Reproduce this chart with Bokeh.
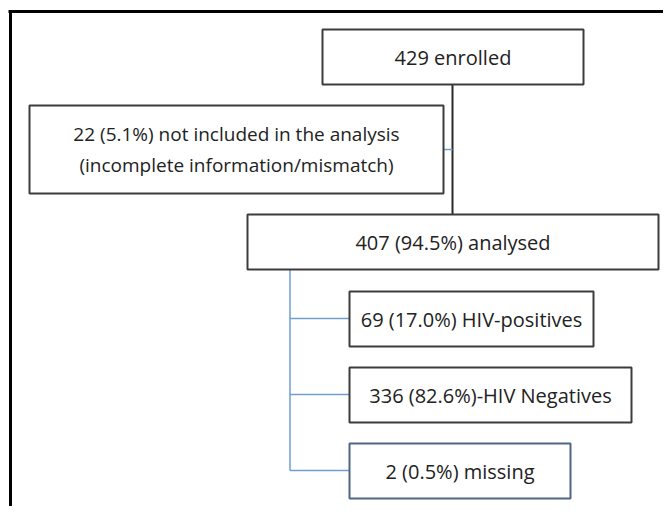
from bokeh.plotting import figure
from bokeh.models import Range1d, ColumnDataSource
from bokeh.core.properties import value
from bokeh.embed import file_html
from bokeh.resources import INLINE

# ---- data (flow-chart texts) ----
box_labels = [
    "429 enrolled",
    "22 (5.1%) not included in the analysis\n(incomplete information/mismatch)",
    "407 (94.5%) analysed",
    "69 (17.0%) HIV-positives",
    "336 (82.6%)-HIV Negatives",
    "2 (0.5%) missing",
]

# ---- layout (picture pixel coordinates) ----
box_left = [322, 29, 247, 349, 349, 349]
box_right = [583, 443, 658, 593, 631, 570]
box_top = [29, 105, 214, 291, 367, 443]
box_bottom = [84, 193, 269, 346, 422, 498]
box_color = ["#3c3c3c", "#3c3c3c", "#3c3c3c", "#3c3c3c", "#3c3c3c", "#4f6684"]
font_px = ["20px", "19px", "20px", "20px", "20px", "20px"]

W, H = 663, 506
p = figure(width=W, height=H, output_backend="svg", toolbar_location=None,
           x_range=Range1d(0, W), y_range=Range1d(H, 0),
           min_border=0, outline_line_color=None, background_fill_color="white")
p.axis.visible = False
p.grid.visible = False

# outer frame (top and left edges visible)
p.segment(x0=[10, 8], y0=[11, 11], x1=[10, 700], y1=[520, 11],
          line_color="black", line_width=3)

# black connector enrolled -> analysed
cx = (box_left[0] + box_right[0]) / 2 - 0.5
p.segment(x0=[cx], y0=[box_bottom[0]], x1=[cx], y1=[box_top[2]],
          line_color="#2a2a2a", line_width=2)

# blue connector to excluded box
blue = "#6f9fcf"
p.segment(x0=[box_right[1]], y0=[149], x1=[cx], y1=[149],
          line_color=blue, line_width=1.5)

# blue tree from analysed box to outcome boxes
tx = 289.5
branch_y = [(box_top[i] + box_bottom[i]) / 2 - 0.5 for i in (3, 4, 5)]
p.segment(x0=[tx], y0=[box_bottom[2]], x1=[tx], y1=[branch_y[-1]],
          line_color=blue, line_width=1.5)
p.segment(x0=[tx] * 3, y0=branch_y, x1=[box_left[i] for i in (3, 4, 5)], y1=branch_y,
          line_color=blue, line_width=1.5)

src = ColumnDataSource(dict(left=box_left, right=box_right, top=box_top,
                            bottom=box_bottom, color=box_color))
p.quad(left="left", right="right", top="top", bottom="bottom", source=src,
       fill_color="white", line_color="color", line_width=2)

tsrc = ColumnDataSource(dict(
    x=[(l + r) / 2 for l, r in zip(box_left, box_right)],
    y=[(t + b) / 2 for t, b in zip(box_top, box_bottom)],
    text=box_labels, size=font_px))
p.text(x="x", y="y", text="text", source=tsrc, text_align="center",
       text_baseline="middle", text_font=value("Open Sans"),
       text_font_size="size", text_color="#222222", text_line_height=1.2)

open("out.html", "w").write(file_html(p, INLINE))
